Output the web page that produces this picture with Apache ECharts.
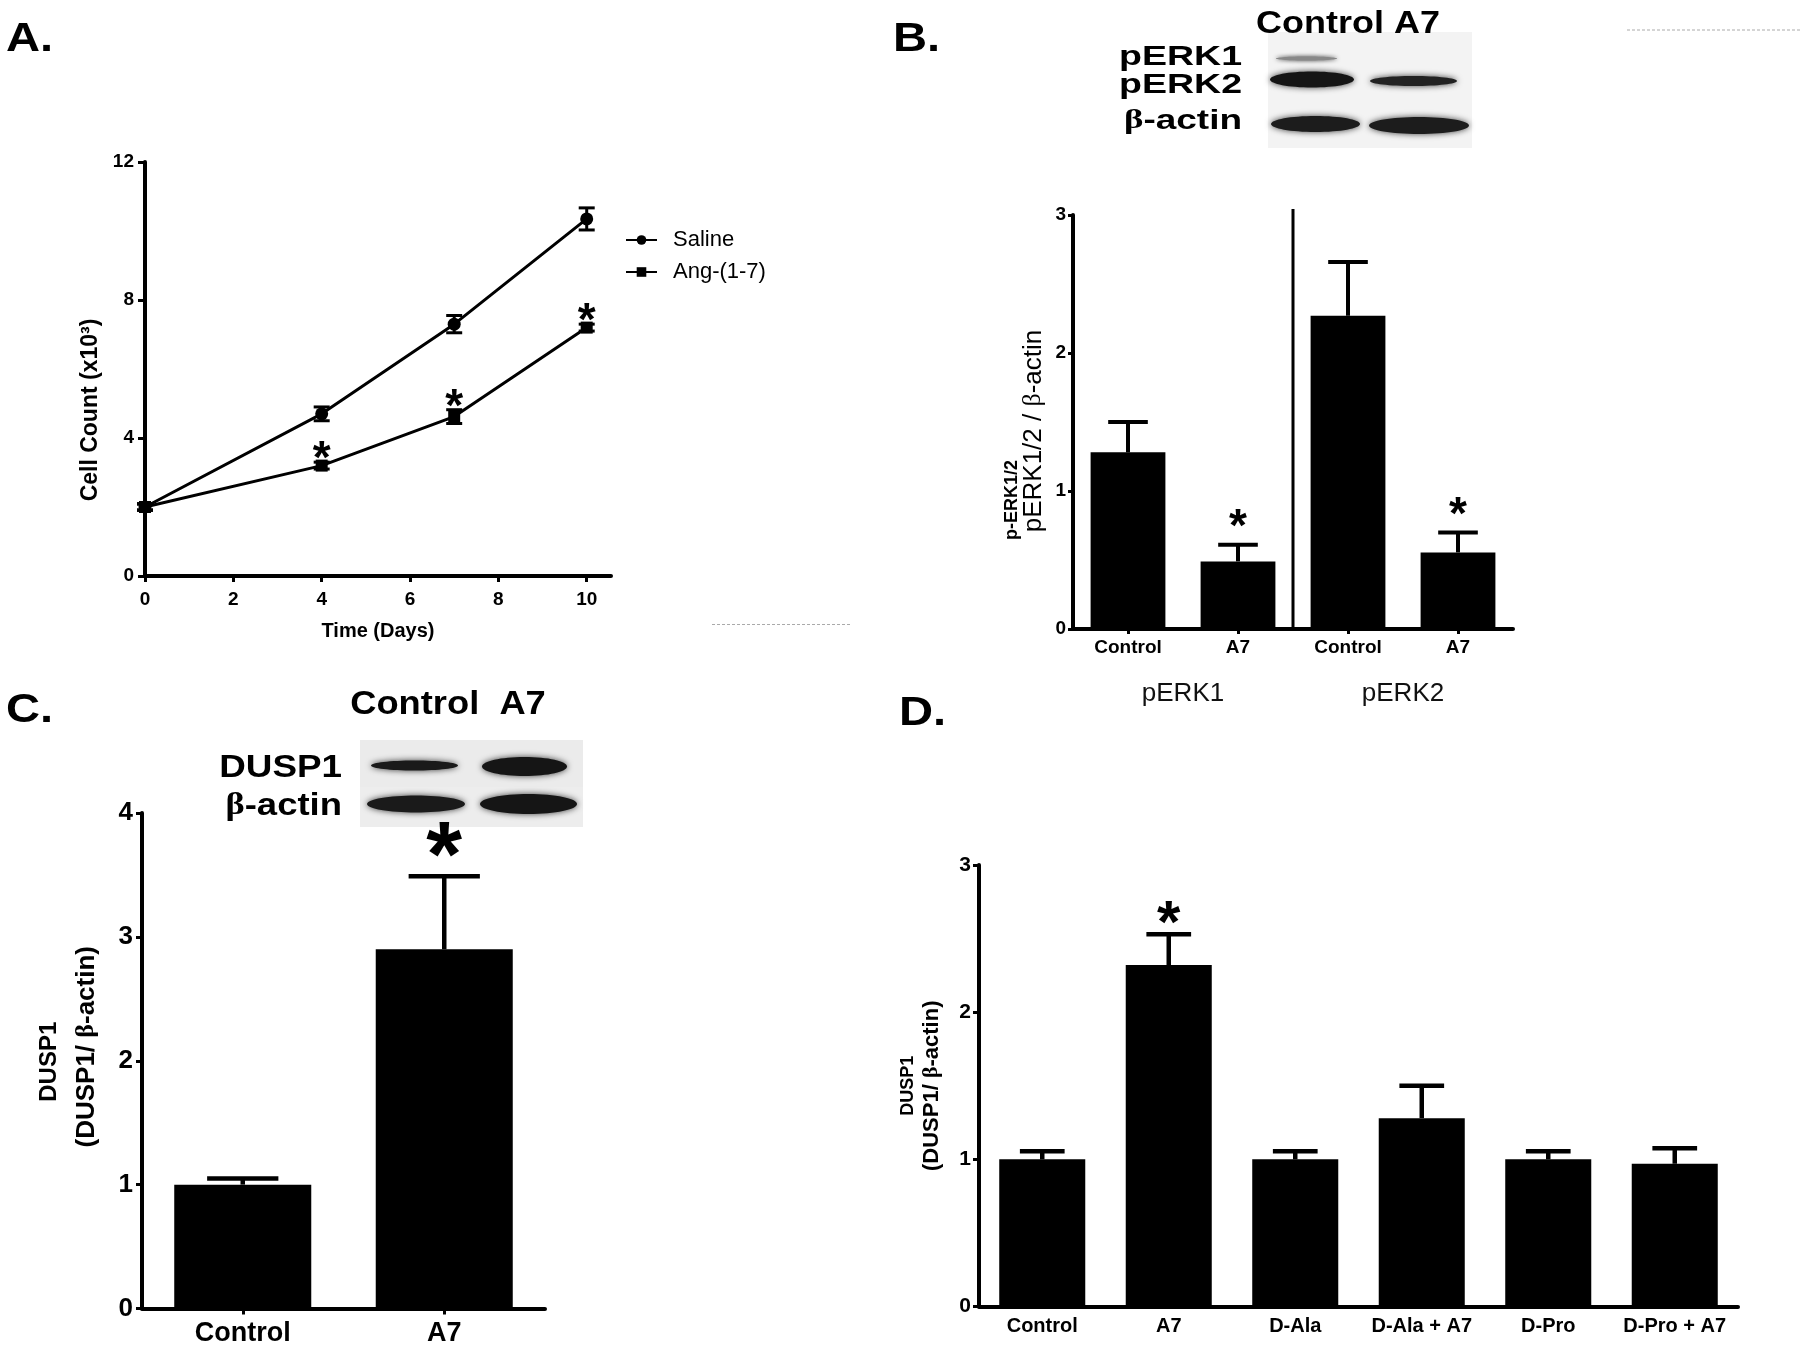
<!DOCTYPE html>
<html><head><meta charset="utf-8">
<script src="https://cdn.jsdelivr.net/npm/echarts@6/dist/echarts.min.js"></script>
<style>html,body{margin:0;padding:0;background:#fff}#chart{width:1800px;height:1352px}</style>
</head><body><div id="chart"></div>
<script>
// ---------- Panel A : cell count time course ----------
const daysA = [0, 4, 7, 10];
const xTicksA = [0, 2, 4, 6, 8, 10];
const salineMean = [2.0, 4.7, 7.3, 10.35];
const salineSem = [0.1, 0.2, 0.25, 0.32];
const angMean = [2.0, 3.2, 4.62, 7.2];
const angSem = [0.08, 0.1, 0.2, 0.1];
const angSig = [false, true, true, true];
// ---------- Panel B : pERK1/2 ----------
const catsB = ['Control', 'A7', 'Control', 'A7'];
const groupsB = ['pERK1', 'pERK2'];
const meanB = [1.28, 0.49, 2.27, 0.555];
const semB = [0.22, 0.12, 0.39, 0.145];
const sigB = [false, true, false, true];
// ---------- Panel C : DUSP1 ----------
const catsC = ['Control', 'A7'];
const meanC = [1.0, 2.9];
const semC = [0.05, 0.59];
const sigC = [false, true];
// ---------- Panel D : DUSP1 with antagonists ----------
const catsD = ['Control', 'A7', 'D-Ala', 'D-Ala + A7', 'D-Pro', 'D-Pro + A7'];
const meanD = [1.0, 2.32, 1.0, 1.28, 1.0, 0.97];
const semD = [0.055, 0.21, 0.055, 0.22, 0.055, 0.105];
const sigD = [false, true, false, false, false, false];

const FF = 'Liberation Sans, Arial, Helvetica, sans-serif';
const SERIF = 'Liberation Serif, Times New Roman, serif';
const BLACK = '#000';

function axisBase(extra) {
  return Object.assign({
    axisLine: { show: true, lineStyle: { color: BLACK, width: 4 } },
    axisTick: { show: true, length: 6, lineStyle: { color: BLACK, width: 3 } },
    splitLine: { show: false }
  }, extra);
}

// upward error bar with cap (bar charts)
function barErr(capFrac, lw) {
  return function (params, api) {
    const x = api.value(0), m = api.value(1), s = api.value(2);
    const base = api.coord([x, m]);
    const top = api.coord([x, m + s]);
    const band = api.size([1, 0])[0];
    const cap = band * 0.68 * capFrac / 2;
    return { type: 'group', children: [
      { type: 'line', shape: { x1: base[0], y1: base[1], x2: top[0], y2: top[1] }, style: { stroke: BLACK, lineWidth: lw } },
      { type: 'line', shape: { x1: top[0] - cap, y1: top[1], x2: top[0] + cap, y2: top[1] }, style: { stroke: BLACK, lineWidth: lw } }
    ] };
  };
}
// symmetric error bar (line chart)
function lineErr(params, api) {
  const x = api.value(0), m = api.value(1), s = api.value(2);
  const lo = api.coord([x, m - s]), hi = api.coord([x, m + s]);
  const c = 8;
  return { type: 'group', children: [
    { type: 'line', shape: { x1: lo[0], y1: lo[1], x2: hi[0], y2: hi[1] }, style: { stroke: BLACK, lineWidth: 3 } },
    { type: 'line', shape: { x1: hi[0] - c, y1: hi[1], x2: hi[0] + c, y2: hi[1] }, style: { stroke: BLACK, lineWidth: 3 } },
    { type: 'line', shape: { x1: lo[0] - c, y1: lo[1], x2: lo[0] + c, y2: lo[1] }, style: { stroke: BLACK, lineWidth: 3 } }
  ] };
}
// significance asterisk above a value
function stars(fontSize, gap) {
  return function (params, api) {
    const p = api.coord([api.value(0), api.value(1)]);
    return { type: 'text', x: p[0], y: p[1] - gap + 0.23 * fontSize,
      style: { text: '*', fontSize: fontSize, fontWeight: 'bold', fontFamily: FF, fill: BLACK, align: 'center', verticalAlign: 'middle' } };
  };
}
function sigData(xs, means, sems, sig) {
  const out = [];
  sig.forEach((s, i) => { if (s) out.push([xs[i], means[i] + sems[i]]); });
  return out;
}
const idxB = catsB.map((c, i) => i), idxC = catsC.map((c, i) => i), idxD = catsD.map((c, i) => i);

// ---------- decorative western blots ----------
function band(x1, x2, yc, h, fill, blur) {
  return { type: 'ellipse', shape: { cx: (x1 + x2) / 2, cy: yc, rx: (x2 - x1) / 2, ry: h / 2 },
    style: { fill: fill, shadowBlur: blur, shadowColor: 'rgba(0,0,0,0.75)' }, z: 5 };
}
function label(text, x, y, size, align, scaleX, rich) {
  const st = { text: text, fontSize: size, fontWeight: 'bold', fontFamily: FF, fill: BLACK, align: align, verticalAlign: 'middle' };
  if (rich) st.rich = rich;
  return { type: 'text', x: x, y: y, scaleX: scaleX, style: st, z: 10 };
}
const betaRich = (size) => ({ g: { fontSize: size, fontWeight: 'bold', fontFamily: SERIF, fill: BLACK }, t: { fontSize: size, fontWeight: 'bold', fontFamily: FF, fill: BLACK } });

const graphics = [
  // panel letters
  label('A.', 6, 40, 41, 'left', 1.15),
  label('B.', 893, 40, 41, 'left', 1.15),
  label('C.', 6, 711, 41, 'left', 1.15),
  label('D.', 899, 714, 41, 'left', 1.15),
  // blot B
  { type: 'rect', shape: { x: 1268, y: 32, width: 204, height: 116 }, style: { fill: '#f3f3f3' }, z: 1 },
  band(1276, 1337, 58.5, 4, '#888', 4),
  band(1270, 1354, 79.5, 16, '#151515', 6),
  band(1370, 1457, 81, 10, '#222', 6),
  band(1271, 1360, 124, 16, '#1c1c1c', 6),
  band(1369, 1469, 125.5, 17, '#1c1c1c', 6),
  label('Control A7', 1348, 24, 31, 'center', 1.16),
  label('pERK1', 1242, 57, 28, 'right', 1.34),
  label('pERK2', 1242, 85, 28, 'right', 1.34),
  label('{g|β}{t|-actin}', 1242, 121, 28, 'right', 1.32, betaRich(28)),
  // blot C
  { type: 'rect', shape: { x: 360, y: 740, width: 223, height: 47 }, style: { fill: '#ebebeb' }, z: 1 },
  { type: 'rect', shape: { x: 360, y: 787, width: 223, height: 40 }, style: { fill: '#ededed' }, z: 1 },
  band(371, 458, 765.5, 10, '#1a1a1a', 6),
  band(482, 567, 766.5, 19, '#151515', 6),
  band(367, 465, 804, 17, '#1a1a1a', 6),
  band(480, 577, 804, 20, '#151515', 6),
  label('Control  A7', 448, 705, 33, 'center', 1.1),
  label('DUSP1', 342, 768, 32, 'right', 1.15),
  label('{g|β}{t|-actin}', 342, 806, 32, 'right', 1.14, betaRich(32)),
  // faint scanning artefacts
  { type: 'line', shape: { x1: 712, y1: 624.5, x2: 852, y2: 624.5 }, style: { stroke: '#aaa', lineWidth: 1, lineDash: [3, 2] } },
  { type: 'line', shape: { x1: 1627, y1: 30, x2: 1800, y2: 30 }, style: { stroke: '#aaa', lineWidth: 1, lineDash: [3, 2] } }
];

const option = {
  backgroundColor: '#fff',
  animation: false,
  textStyle: { fontFamily: FF, color: BLACK },
  grid: [
    { left: 145, top: 162, width: 466, height: 414 },
    { left: 1073, top: 215, width: 440, height: 414 },
    { left: 142, top: 813, width: 403, height: 495.5 },
    { left: 979, top: 865, width: 759, height: 441.5 }
  ],
  legend: {
    data: ['Saline', 'Ang-(1-7)'], orient: 'vertical', left: 620, top: 224,
    itemWidth: 31, itemHeight: 12, itemGap: 10, selectedMode: false,
    textStyle: { fontSize: 22, color: BLACK, fontFamily: FF, padding: [0, 0, 0, 11] }
  },
  xAxis: [
    axisBase({ gridIndex: 0, type: 'value', min: 0, max: 10.55, interval: 2,
      axisTick: { show: true, length: 6, lineStyle: { color: BLACK, width: 3 }, customValues: xTicksA },
      axisLabel: { customValues: xTicksA, margin: 14, fontSize: 19, fontWeight: 'bold', color: BLACK, fontFamily: FF },
      name: 'Time (Days)', nameLocation: 'middle', nameGap: 45,
      nameTextStyle: { fontSize: 20, fontWeight: 'bold', color: BLACK, fontFamily: FF } }),
    axisBase({ gridIndex: 1, type: 'category', data: catsB,
      axisTick: { show: true, alignWithLabel: true, length: 5, lineStyle: { color: BLACK, width: 3 } },
      axisLabel: { margin: 9, fontSize: 19, fontWeight: 'bold', color: BLACK, fontFamily: FF } }),
    { gridIndex: 1, type: 'category', data: groupsB, position: 'bottom', offset: 0,
      axisLine: { show: false }, axisTick: { show: false }, splitLine: { show: false },
      axisLabel: { margin: 52, fontSize: 26, color: '#111', fontFamily: FF } },
    axisBase({ gridIndex: 2, type: 'category', data: catsC,
      axisTick: { show: true, alignWithLabel: true, length: 6, lineStyle: { color: BLACK, width: 3 } },
      axisLabel: { margin: 12, fontSize: 27, fontWeight: 'bold', color: BLACK, fontFamily: FF } }),
    axisBase({ gridIndex: 3, type: 'category', data: catsD,
      axisTick: { show: false },
      axisLabel: { interval: 0, margin: 10, fontSize: 20, fontWeight: 'bold', color: BLACK, fontFamily: FF } })
  ],
  yAxis: [
    axisBase({ gridIndex: 0, type: 'value', min: 0, max: 12, interval: 4,
      axisTick: { show: true, length: 7, lineStyle: { color: BLACK, width: 3 } },
      axisLabel: { margin: 11, fontSize: 19, fontWeight: 'bold', color: BLACK, fontFamily: FF },
      name: 'Cell Count (x10³)', nameLocation: 'middle', nameGap: 43,
      nameTextStyle: { fontSize: 23, fontWeight: 'bold', color: BLACK, fontFamily: FF, padding: [0, 82, 0, 0] } }),
    axisBase({ gridIndex: 1, type: 'value', min: 0, max: 3, interval: 1,
      axisTick: { show: true, length: 5, lineStyle: { color: BLACK, width: 3 } },
      axisLabel: { margin: 7, fontSize: 19, fontWeight: 'bold', color: BLACK, fontFamily: FF },
      name: '{a|p-ERK1/2}\n{b|pERK1/2 / }{g|β}{b|-actin}', nameLocation: 'middle', nameGap: 29,
      nameTextStyle: { lineHeight: 21, padding: [0, 18, 0, 0], rich: {
        a: { fontSize: 18, fontWeight: 'bold', fontFamily: FF, color: BLACK, lineHeight: 21, width: 218, align: 'left' },
        b: { fontSize: 26, fontFamily: FF, color: BLACK, lineHeight: 21 },
        g: { fontSize: 26, fontFamily: SERIF, color: BLACK, lineHeight: 21 } } } }),
    axisBase({ gridIndex: 2, type: 'value', min: 0, max: 4, interval: 1,
      axisTick: { show: true, length: 6, lineStyle: { color: BLACK, width: 3 } },
      axisLabel: { margin: 9, fontSize: 26, fontWeight: 'bold', color: BLACK, fontFamily: FF },
      name: '{c|DUSP1}\n{a|(DUSP1/ }{g|β}{a|-actin)}', nameLocation: 'middle', nameGap: 37,
      nameTextStyle: { lineHeight: 37, padding: [0, 0, 0, 28], rich: {
        c: { fontSize: 24, fontWeight: 'bold', fontFamily: FF, color: BLACK, lineHeight: 37, padding: [0, 30, 0, 0] },
        a: { fontSize: 26, fontWeight: 'bold', fontFamily: FF, color: BLACK, lineHeight: 37 },
        g: { fontSize: 26, fontWeight: 'bold', fontFamily: SERIF, color: BLACK, lineHeight: 37 } } } }),
    axisBase({ gridIndex: 3, type: 'value', min: 0, max: 3, interval: 1,
      axisTick: { show: true, length: 6, lineStyle: { color: BLACK, width: 3 } },
      axisLabel: { margin: 8, fontSize: 21, fontWeight: 'bold', color: BLACK, fontFamily: FF },
      name: '{c|DUSP1}\n{a|(DUSP1/ }{g|β}{a|-actin)}', nameLocation: 'middle', nameGap: 36,
      nameTextStyle: { lineHeight: 23, rich: {
        c: { fontSize: 18, fontWeight: 'bold', fontFamily: FF, color: BLACK, lineHeight: 23 },
        a: { fontSize: 22, fontWeight: 'bold', fontFamily: FF, color: BLACK, lineHeight: 23 },
        g: { fontSize: 22, fontWeight: 'bold', fontFamily: SERIF, color: BLACK, lineHeight: 23 } } } })
  ],
  series: [
    // Panel A
    { type: 'custom', name: 'errSaline', xAxisIndex: 0, yAxisIndex: 0, renderItem: lineErr, clip: false, z: 3,
      data: daysA.map((d, i) => [d, salineMean[i], salineSem[i]]) },
    { type: 'custom', name: 'errAng', xAxisIndex: 0, yAxisIndex: 0, renderItem: lineErr, clip: false, z: 3,
      data: daysA.map((d, i) => [d, angMean[i], angSem[i]]) },
    { type: 'line', name: 'Saline', xAxisIndex: 0, yAxisIndex: 0, symbol: 'circle', symbolSize: 13, z: 4,
      lineStyle: { color: BLACK, width: 3 }, itemStyle: { color: BLACK },
      data: daysA.map((d, i) => [d, salineMean[i]]) },
    { type: 'line', name: 'Ang-(1-7)', xAxisIndex: 0, yAxisIndex: 0, symbol: 'rect', symbolSize: 12, z: 4,
      lineStyle: { color: BLACK, width: 3 }, itemStyle: { color: BLACK },
      data: daysA.map((d, i) => [d, angMean[i]]) },
    { type: 'custom', name: 'starsA', xAxisIndex: 0, yAxisIndex: 0, renderItem: stars(46, 12), clip: false, z: 5,
      data: sigData(daysA, angMean, angSem, angSig) },
    // Panel B
    { type: 'bar', name: 'B', xAxisIndex: 1, yAxisIndex: 1, barWidth: '68%', itemStyle: { color: BLACK }, data: meanB },
    { type: 'custom', name: 'errB', xAxisIndex: 1, yAxisIndex: 1, renderItem: barErr(0.53, 4), clip: false, z: 3,
      data: idxB.map(i => [i, meanB[i], semB[i]]) },
    { type: 'custom', name: 'starsB', xAxisIndex: 1, yAxisIndex: 1, renderItem: stars(46, 27), clip: false, z: 5,
      data: sigData(idxB, meanB, semB, sigB) },
    { type: 'custom', name: 'dividerB', xAxisIndex: 1, yAxisIndex: 1, clip: false, z: 3,
      data: [[1, 0, 3]],
      renderItem: function (params, api) {
        const b = api.coord([api.value(0), api.value(1)]);
        const t = api.coord([api.value(0), api.value(2)]);
        const half = api.size([1, 0])[0] / 2;
        return { type: 'line', shape: { x1: b[0] + half, y1: b[1], x2: b[0] + half, y2: t[1] - 6 }, style: { stroke: BLACK, lineWidth: 3 } };
      } },
    // Panel C
    { type: 'bar', name: 'C', xAxisIndex: 3, yAxisIndex: 2, barWidth: '68%', itemStyle: { color: BLACK }, data: meanC },
    { type: 'custom', name: 'errC', xAxisIndex: 3, yAxisIndex: 2, renderItem: barErr(0.52, 4.5), clip: false, z: 3,
      data: idxC.map(i => [i, meanC[i], semC[i]]) },
    { type: 'custom', name: 'starsC', xAxisIndex: 3, yAxisIndex: 2, renderItem: stars(92, 37), clip: false, z: 5,
      data: sigData(idxC, meanC, semC, sigC) },
    // Panel D
    { type: 'bar', name: 'D', xAxisIndex: 4, yAxisIndex: 3, barWidth: '68%', itemStyle: { color: BLACK }, data: meanD },
    { type: 'custom', name: 'errD', xAxisIndex: 4, yAxisIndex: 3, renderItem: barErr(0.52, 4.5), clip: false, z: 3,
      data: idxD.map(i => [i, meanD[i], semD[i]]) },
    { type: 'custom', name: 'starsD', xAxisIndex: 4, yAxisIndex: 3, renderItem: stars(60, 23), clip: false, z: 5,
      data: sigData(idxD, meanD, semD, sigD) }
  ],
  graphic: graphics
};

const chart = echarts.init(document.getElementById('chart'), null, { renderer: 'canvas' });
chart.setOption(option);
</script>
</body></html>
